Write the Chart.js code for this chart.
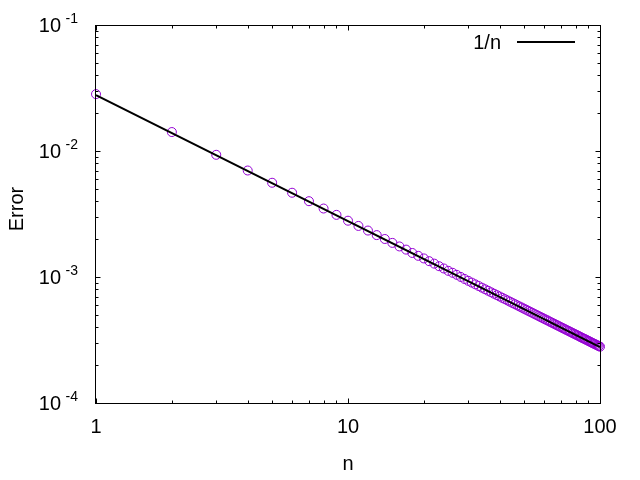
<!DOCTYPE html>
<html>
<head>
<meta charset="utf-8">
<title>Error vs n</title>
<script src="https://cdn.jsdelivr.net/npm/chart.js@4.4.1/dist/chart.umd.min.js"></script>
<style>
  body { margin: 0; background: #fff; }
  #wrap { width: 640px; height: 480px; }
</style>
</head>
<body>
<div id="wrap"><canvas id="errChart" width="640" height="480"></canvas></div>
<script>
// ------- data -------
const nValues = [
  1, 2, 3, 4, 5, 6, 7, 8, 9, 10, 11, 12, 13, 14, 15, 16, 17, 18, 19, 20,
  21, 22, 23, 24, 25, 26, 27, 28, 29, 30, 31, 32, 33, 34, 35, 36, 37, 38, 39, 40,
  41, 42, 43, 44, 45, 46, 47, 48, 49, 50, 51, 52, 53, 54, 55, 56, 57, 58, 59, 60,
  61, 62, 63, 64, 65, 66, 67, 68, 69, 70, 71, 72, 73, 74, 75, 76, 77, 78, 79, 80,
  81, 82, 83, 84, 85, 86, 87, 88, 89, 90, 91, 92, 93, 94, 95, 96, 97, 98, 99, 100
];
const errValues = [
  0.0288, 0.0144, 0.0095, 0.00713, 0.0057, 0.00475, 0.00407, 0.00356, 0.00317, 0.00285,
  0.00259, 0.00238, 0.00219, 0.00204, 0.0019, 0.00178, 0.00168, 0.00158, 0.0015, 0.00143,
  0.00136, 0.0013, 0.00124, 0.00119, 0.00114, 0.0011, 0.00106, 0.00102, 0.000983, 0.00095,
  0.000919, 0.000891, 0.000864, 0.000838, 0.000814, 0.000792, 0.00077, 0.00075, 0.000731, 0.000713,
  0.000695, 0.000679, 0.000663, 0.000648, 0.000633, 0.00062, 0.000606, 0.000594, 0.000582, 0.00057,
  0.000559, 0.000548, 0.000538, 0.000528, 0.000518, 0.000509, 0.0005, 0.000491, 0.000483, 0.000475,
  0.000467, 0.00046, 0.000452, 0.000445, 0.000438, 0.000432, 0.000425, 0.000419, 0.000413, 0.000407,
  0.000401, 0.000396, 0.00039, 0.000385, 0.00038, 0.000375, 0.00037, 0.000365, 0.000361, 0.000356,
  0.000352, 0.000348, 0.000343, 0.000339, 0.000335, 0.000331, 0.000328, 0.000324, 0.00032, 0.000317,
  0.000313, 0.00031, 0.000306, 0.000303, 0.0003, 0.000297, 0.000294, 0.000291, 0.000288, 0.000285
];
// the "1/n" reference line, its two ends
const refN = [1, 100];
const refErr = [0.0283, 0.000283];

const xTicks = [1, 10, 100];
const xTickLabels = ["1", "10", "100"];
const yTicks = [1e-4, 1e-3, 1e-2, 1e-1];
const yTickExp = ["-4", "-3", "-2", "-1"];

const FONT = "'Liberation Sans', Arial, sans-serif";

// ------- gnuplot style frame, ticks and labels -------
const gnuplotFrame = {
  id: "gnuplotFrame",
  afterDraw(chart) {
    let ctx = chart.ctx,
      a = chart.chartArea,
      x = chart.scales.x,
      y = chart.scales.y;

    ctx.save();
    ctx.strokeStyle = "#000";
    ctx.lineWidth = 1;
    ctx.strokeRect(a.left - 0.5, a.top - 0.5, a.right - a.left + 1, a.bottom - a.top);

    let L = a.left - 0.5, R = a.right + 0.5, T = a.top - 0.5, B = a.bottom - 0.5;
    ctx.beginPath();
    // x ticks, bottom and top (mirrored)
    for (let d = 0; d < xTicks.length; d++) {
      for (let m = 1; m <= 9; m++) {
        let v = xTicks[d] * m;
        if (v > xTicks[xTicks.length - 1]) break;
        let px = Math.round(x.getPixelForValue(v)) + 0.5;
        let len = m === 1 ? 5 : 3;
        ctx.moveTo(px, B); ctx.lineTo(px, B - len);
        ctx.moveTo(px, T); ctx.lineTo(px, T + len);
      }
    }
    // y ticks, left and right
    for (let d = 0; d < yTicks.length; d++) {
      for (let m = 1; m <= 9; m++) {
        let v = yTicks[d] * m;
        if (v > yTicks[yTicks.length - 1] * 1.0001) break;
        let py = Math.round(y.getPixelForValue(v)) - 0.5;
        let len = m === 1 ? 5 : 3;
        ctx.moveTo(L, py); ctx.lineTo(L + len, py);
        ctx.moveTo(R, py); ctx.lineTo(R - len, py);
      }
    }
    ctx.stroke();

    ctx.fillStyle = "#000";
    // x tick labels
    ctx.font = "20px " + FONT;
    ctx.textAlign = "center";
    ctx.textBaseline = "alphabetic";
    xTicks.forEach((v, i) => {
      ctx.fillText(xTickLabels[i], x.getPixelForValue(v), a.bottom + 29);
    });

    // y tick labels 10^k
    yTicks.forEach((v, i) => {
      let py = y.getPixelForValue(v);
      ctx.textAlign = "right";
      ctx.font = "20px " + FONT;
      ctx.fillText("10", a.left - 35, py + 6);
      ctx.font = "14px " + FONT;
      ctx.fillText(yTickExp[i], a.left - 18, py - 3);
    });

    // axis titles
    ctx.font = "20px " + FONT;
    ctx.textAlign = "center";
    ctx.fillText("n", (a.left + a.right) / 2, 470);
    ctx.save();
    ctx.translate(23, 209);
    ctx.rotate(-Math.PI / 2);
    ctx.fillText("Error", 0, 0);
    ctx.restore();

    // key
    ctx.textAlign = "right";
    ctx.fillText("1/n", 501, 49);
    ctx.beginPath();
    ctx.lineWidth = 2;
    ctx.moveTo(517, 42);
    ctx.lineTo(575, 42);
    ctx.stroke();

    ctx.restore();
  },
};

new Chart("errChart", {
  type: "scatter",
  data: {
    datasets: [
      {
        label: "1/n",
        data: refN.map((n, i) => ({ x: n, y: refErr[i] })),
        showLine: true,
        borderColor: "#000",
        borderWidth: 2,
        pointRadius: 0,
        order: 0,
      },
      {
        label: "data",
        data: nValues.map((n, i) => ({ x: n, y: errValues[i] })),
        showLine: false,
        pointStyle: "circle",
        pointRadius: 4.5,
        pointBorderWidth: 1,
        pointBorderColor: "#9400d3",
        pointBackgroundColor: "rgba(0,0,0,0)",
        clip: false,
        order: 1,
      },
    ],
  },
  options: {
    responsive: false,
    animation: false,
    devicePixelRatio: 1,
    layout: { padding: { left: 96, right: 40, top: 26, bottom: 76 } },
    plugins: { legend: { display: false }, tooltip: { enabled: false } },
    scales: {
      x: { type: "logarithmic", min: 1, max: 100, display: false },
      y: { type: "logarithmic", min: 1e-4, max: 1e-1, display: false },
    },
  },
  plugins: [gnuplotFrame],
});
</script>
</body>
</html>
